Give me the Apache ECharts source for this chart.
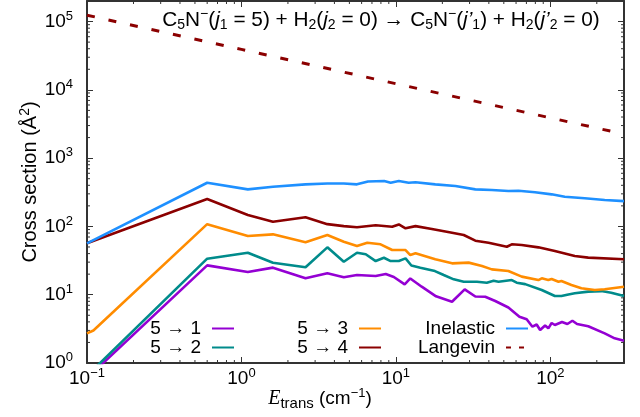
<!DOCTYPE html>
<html>
<head>
<meta charset="utf-8">
<script src="https://cdn.jsdelivr.net/npm/echarts@6/dist/echarts.min.js"></script>
<style>
  html, body { margin: 0; padding: 0; background: #fff; }
  #chart { width: 640px; height: 417px; }
</style>
</head>
<body>
<div id="chart"></div>
<script>
// State-to-state rotational cross sections, C5N- (j1 = 5) + H2 (j2 = 0)
// Each series: [collision energy (cm^-1), cross section (Å^2)]
const trans51 = [[0.1,0.6],[0.6,26.9],[1.1,21.5],[1.6,24.9],[2.6,17.4],[3.6,20.6],[4.6,18.0],[5.6,19.4],[7.4,18.8],[8.6,20.1],[9.7,18.2],[11.4,14.2],[12.4,17.3],[14.7,13.1],[18.2,9.48],[23.1,7.9],[27.9,12.0],[32.7,9.41],[37.9,9.35],[44.0,8.09],[53.5,6.5],[63.1,4.76],[70.3,4.37],[76.6,3.4],[81.6,3.66],[85.9,3.04],[92.5,3.54],[97.1,3.22],[102,3.85],[107,3.6],[119,3.98],[129,3.72],[139,4.16],[149,3.72],[176,3.45],[225,2.72],[261,2.3],[300,2.12]];
const trans52 = [[0.1,0.65],[0.6,33.7],[1.1,41.2],[1.6,29.4],[2.6,25.2],[3.6,49.4],[4.6,30.4],[5.6,41.2],[6.38,39.1],[7.4,31.1],[8.37,34.8],[9.25,31.1],[10.45,31.1],[11.55,34.1],[12.6,26.8],[14.4,24.9],[17.9,22.2],[20.4,19.4],[23.7,16.8],[27.5,15.5],[33.5,15.5],[38.8,15.0],[42.9,16.0],[46.2,15.5],[56.3,16.4],[60.6,15.0],[68.7,14.3],[88,11.7],[107,9.57],[118,9.57],[131,10.1],[144,10.5],[176,11.1],[214,11.3],[248,10.7],[300,9.57]];
const trans53 = [[0.1,2.72],[0.11,2.99],[0.6,108],[1.1,72.3],[1.6,76.6],[2.6,58.5],[3.6,74.8],[4.6,59.7],[5.6,51.6],[6.53,57.7],[7.96,54.7],[9.46,45.1],[11.55,45.1],[12.4,38.1],[13.4,40.4],[18,33],[23.1,28.8],[29.6,29.5],[36.1,26.3],[41.8,23.5],[53.5,22.2],[65.3,18.4],[83.7,16.4],[88,17.4],[97,16.4],[102,17],[113,15.5],[118,15.9],[137,13.9],[159,12.4],[194,11.7],[225,12.0],[300,13.1]];
const trans54 = [[0.1,56.6],[0.6,252],[1.1,147],[1.6,117],[2.6,136],[3.6,108],[4.6,101],[5.6,97],[7.4,104],[9.46,99],[10.45,107],[11.55,94],[13.4,101],[17.1,91.6],[23.1,80.9],[27.5,74.8],[32.7,61.8],[39.8,57.7],[52.3,50.4],[56.3,54.7],[65.3,53.4],[83.7,49.4],[107,43.6],[144,36.9],[176,34.9],[300,33.0]];
const inelastic = [[0.1,56.6],[0.6,436],[1.1,349],[1.6,381],[2.6,413],[3.6,425],[4.6,425],[5.6,413],[6.6,455],[8.4,462],[9.25,436],[10.45,462],[12.1,436],[13.4,443],[18,413],[24.3,391],[32.7,349],[41.8,341],[53.5,330],[62.2,333],[79.6,316],[102,295],[124,272],[167,258],[225,244],[300,235]];
const langevin = [[0.1,124000],[1,39100],[10,12300],[100,3890],[300,2250]];

// Minor tick positions for the log axes
const xMinorTicks = [0.2,0.3,0.4,0.5,0.6,0.7,0.8,0.9,2,3,4,5,6,7,8,9,20,30,40,50,60,70,80,90,200];
const yMinorTicks = [2,3,4,5,6,7,8,9,20,30,40,50,60,70,80,90,200,300,400,500,600,700,800,900,
  2000,3000,4000,5000,6000,7000,8000,9000,20000,30000,40000,50000,60000,70000,80000,90000];

const FONT = '"Liberation Sans", Arial, Helvetica, sans-serif';
const SERIF = '"Liberation Serif", "Times New Roman", serif';
const AXIS = '#333';

function powLabel(v) {
  const lg = Math.log10(v);
  const e = Math.round(lg);
  if (Math.abs(lg - e) > 1e-6) return '';
  return '{b|10}{s|' + (e < 0 ? '\u2212' + (-e) : e) + '}';
}
const tickRich = {
  b: { fontSize: 19, fontFamily: FONT, color: '#000', lineHeight: 24 },
  s: { fontSize: 13, fontFamily: FONT, color: '#000', lineHeight: 13, verticalAlign: 'top' }
};

function logAxis(extra) {
  return Object.assign({
    type: 'log', logBase: 10,
    axisLine: { show: true, onZero: false, lineStyle: { color: AXIS, width: 2 } },
    axisTick: { show: true, inside: true, length: 6, lineStyle: { color: AXIS, width: 1 } },
    splitLine: { show: false },
    minorTick: { show: false }
  }, extra);
}

function minorX(params, api) {
  const cs = params.coordSys;
  const px = api.coord([api.value(0), 1])[0];
  const st = { stroke: AXIS, lineWidth: 1 };
  return { type: 'group', children: [
    { type: 'line', shape: { x1: px, y1: cs.y + cs.height, x2: px, y2: cs.y + cs.height - 3 }, style: st },
    { type: 'line', shape: { x1: px, y1: cs.y, x2: px, y2: cs.y + 3 }, style: st }
  ] };
}
function minorY(params, api) {
  const cs = params.coordSys;
  const py = api.coord([1, api.value(1)])[1];
  const st = { stroke: AXIS, lineWidth: 1 };
  return { type: 'group', children: [
    { type: 'line', shape: { x1: cs.x, y1: py, x2: cs.x + 3, y2: py }, style: st },
    { type: 'line', shape: { x1: cs.x + cs.width, y1: py, x2: cs.x + cs.width - 3, y2: py }, style: st }
  ] };
}

// One legend block per entry: key text on the left, line sample on the right
function legendAt(name, right, top, itemExtra) {
  return {
    data: [Object.assign({ name: name, itemStyle: { opacity: 0 } }, itemExtra || {})],
    right: right, top: top, align: 'right', orient: 'horizontal', padding: 0,
    itemWidth: 22, itemHeight: 12, selectedMode: false,
    textStyle: { fontSize: 19, fontFamily: FONT, color: '#000', padding: [0, 6, 0, 0] }
  };
}

function lineSeries(name, data, color, width, type) {
  return {
    name: name, type: 'line', data: data, symbol: 'none', smooth: false,
    xAxisIndex: 0, yAxisIndex: 0, clip: true,
    lineStyle: { color: color, width: width, type: type || 'solid' },
    itemStyle: { color: color }
  };
}

const tR = {
  n: { fontSize: 20.8, fontFamily: FONT, fill: '#000', lineHeight: 25 },
  i: { fontSize: 20.8, fontFamily: FONT, fontStyle: 'italic', fill: '#000', lineHeight: 25 },
  sb: { fontSize: 14, fontFamily: FONT, fill: '#000', lineHeight: 14, verticalAlign: 'bottom' },
  sp: { fontSize: 14, fontFamily: FONT, fill: '#000', lineHeight: 14, verticalAlign: 'top' }
};
const xR = {
  n: { fontSize: 19, fontFamily: FONT, fill: '#000', lineHeight: 24 },
  e: { fontSize: 20, fontFamily: SERIF, fontStyle: 'italic', fill: '#000', lineHeight: 24 },
  sb: { fontSize: 15, fontFamily: FONT, fill: '#000', lineHeight: 14, verticalAlign: 'bottom' },
  sp: { fontSize: 13, fontFamily: FONT, fill: '#000', lineHeight: 13, verticalAlign: 'top' }
};

const chart = echarts.init(document.getElementById('chart'), null, { renderer: 'canvas' });
chart.setOption({
  animation: false,
  backgroundColor: '#fff',
  grid: { left: 87, right: 16, top: 1, bottom: 54, containLabel: false },
  xAxis: [
    logAxis({ min: 0.1, max: 300, position: 'bottom',
      axisLabel: { formatter: powLabel, rich: tickRich, margin: 4, showMaxLabel: false } }),
    logAxis({ min: 0.1, max: 300, position: 'top', axisLabel: { show: false } })
  ],
  yAxis: [
    logAxis({ min: 1, max: 200000, position: 'left',
      axisLabel: { formatter: powLabel, rich: tickRich, margin: 14, showMaxLabel: false } }),
    logAxis({ min: 1, max: 200000, position: 'right', axisLabel: { show: false } })
  ],
  legend: [
    legendAt('5 \u2192 1', 405, 319),
    legendAt('5 \u2192 2', 405, 338),
    legendAt('5 \u2192 3', 258, 319),
    legendAt('5 \u2192 4', 258, 338),
    legendAt('Inelastic', 111, 319),
    legendAt('Langevin', 111, 338, { lineStyle: { type: [5, 8] } })
  ],
  graphic: [
    { type: 'text', x: 381, y: 20, z: 10,
      style: { align: 'center', verticalAlign: 'middle', rich: tR,
        text: '{n|C}{sb|5}{n|N}{sp|\u2212}{n|(}{i|j}{sb|1}{n| = 5) + H}{sb|2}{n|(}{i|j}{sb|2}{n| = 0) \u2192 C}{sb|5}{n|N}{sp|\u2212}{n|(}{i|j\u2019}{sb|1}{n|) + H}{sb|2}{n|(}{i|j\u2019}{sb|2}{n| = 0)}' } },
    { type: 'text', x: 30, y: 182, rotation: Math.PI / 2, z: 10,
      style: { align: 'center', verticalAlign: 'middle',
        rich: { n: { fontSize: 20, fontFamily: FONT, fill: '#000', lineHeight: 24 },
                sp: { fontSize: 14, fontFamily: FONT, fill: '#000', lineHeight: 14, verticalAlign: 'top' } },
        text: '{n|Cross section (Å}{sp|2}{n|)}' } },
    { type: 'text', x: 320, y: 399, z: 10,
      style: { align: 'center', verticalAlign: 'middle', rich: xR,
        text: '{e|E}{sb|trans}{n| (cm}{sp|\u22121}{n|)}' } }
  ],
  series: [
    lineSeries('5 \u2192 1', trans51, '#9400d3', 2.6),
    lineSeries('5 \u2192 2', trans52, '#008b8b', 2.6),
    lineSeries('5 \u2192 3', trans53, '#ff8c00', 2.6),
    lineSeries('5 \u2192 4', trans54, '#8b0000', 2.6),
    lineSeries('Inelastic', inelastic, '#1e90ff', 2.6),
    lineSeries('Langevin', langevin, '#8b0000', 3, [8, 14]),
    { type: 'custom', name: 'xminor', renderItem: minorX, silent: true, clip: false,
      xAxisIndex: 0, yAxisIndex: 0, data: xMinorTicks.map(v => [v, 1]), z: 1 },
    { type: 'custom', name: 'yminor', renderItem: minorY, silent: true, clip: false,
      xAxisIndex: 0, yAxisIndex: 0, data: yMinorTicks.map(v => [1, v]), z: 1 }
  ]
});
</script>
</body>
</html>
